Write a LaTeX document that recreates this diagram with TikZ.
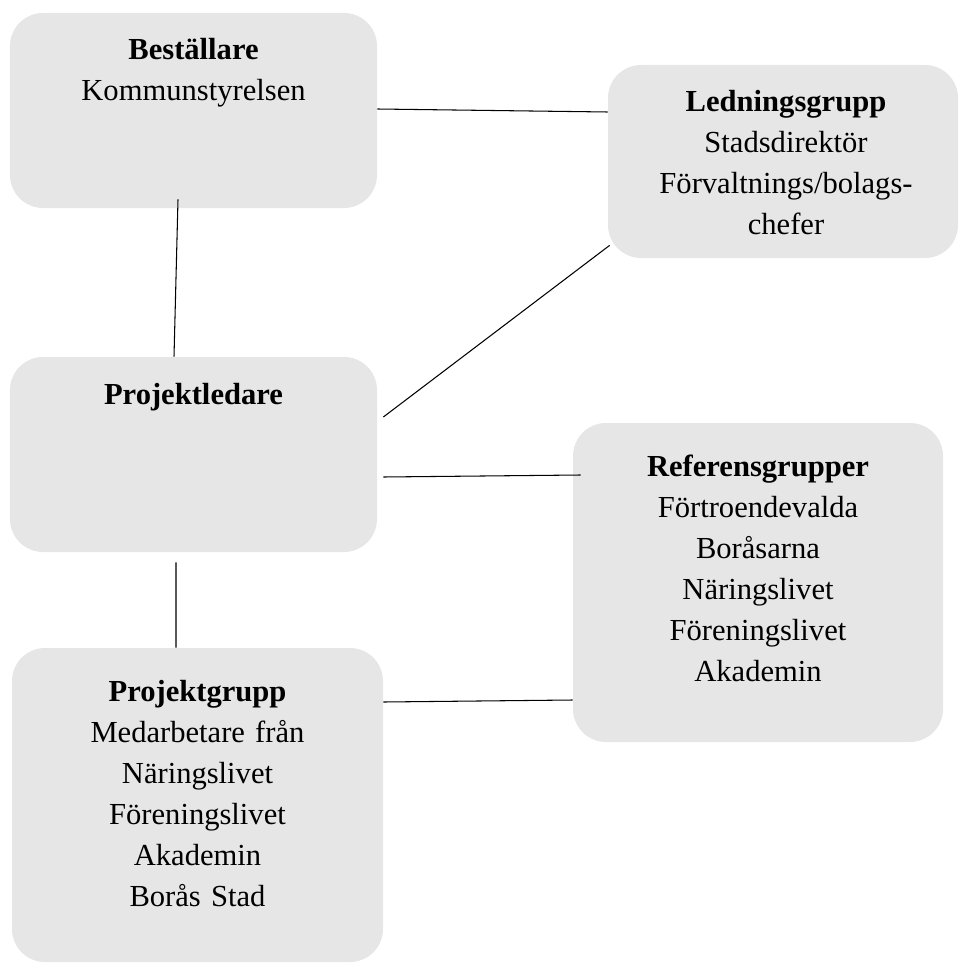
\documentclass[tikz,border=0pt]{standalone}
\usepackage{fontspec}
\setmainfont{Liberation Serif}
\usepackage{tikz}
\definecolor{boxgray}{HTML}{E6E6E6}
\tikzstyle{block} = [rectangle, fill=boxgray, rounded corners=0.66cm,
                 inner sep=0pt]
\tikzstyle{branch} = [line width=0.6pt, draw=black]
\tikzset{
	blocktext/.style={anchor=base, align=center, text width=7cm, inner sep=0pt,
		font=\fontsize{17.4}{23.3}\selectfont},
}

\begin{document}
\begin{tikzpicture}
\useasboundingbox (0,0) rectangle (19.18,-19.26);

\node [block, minimum width=7.34cm, minimum height=3.90cm] at (3.87,-2.21) (best) {};
\node [block, minimum width=7.00cm, minimum height=3.86cm] at (15.66,-3.23) (led) {};
\node [block, minimum width=7.34cm, minimum height=3.90cm] at (3.87,-9.09) (pl) {};
\node [block, minimum width=7.40cm, minimum height=6.38cm] at (15.16,-11.65) (ref) {};
\node [block, minimum width=7.42cm, minimum height=6.28cm] at (3.95,-16.10) (pg) {};

\node [blocktext] at ([yshift=-0.94cm]best.north) (bestt)
	{\textbf{Beställare}\\Kommunstyrelsen};
\node [blocktext] at ([xshift=0.06cm,yshift=-0.94cm]led.north) (ledt)
	{\textbf{Ledningsgrupp}\\Stadsdirektör\\Förvaltnings/bolags-\\chefer};
\node [blocktext] at ([yshift=-0.96cm]pl.north) (plt)
	{\textbf{Projektledare}};
\node [blocktext] at ([yshift=-1.08cm]ref.north) (reft)
	{\textbf{Referensgrupper}\\Förtroendevalda\\Boråsarna\\Näringslivet\\Föreningslivet\\Akademin};
\node [blocktext] at ([yshift=-1.08cm]pg.north) (pgt)
	{\textbf{Projektgrupp}\\Medarbetare från\\Näringslivet\\Föreningslivet\\Akademin\\Borås Stad};

%connections
\path [branch] ([yshift=0.03cm]best.east) -- ([yshift=0.99cm]led.west);
\path [branch] ([xshift=-0.31cm,yshift=0.18cm]best.south) -- ([xshift=-0.39cm]pl.north);
\path [branch] ([xshift=0.12cm,yshift=0.75cm]pl.east) -- ([xshift=0.04cm,yshift=0.26cm]led.south west);
\path [branch] ([xshift=0.12cm,yshift=-0.45cm]pl.east) -- ([xshift=0.16cm,yshift=2.15cm]ref.west);
\path [branch] ([xshift=-0.35cm,yshift=-0.2cm]pl.south) -- ([xshift=-0.43cm]pg.north);
\path [branch] ([yshift=2.06cm]pg.east) -- ([yshift=-2.35cm]ref.west);

\end{tikzpicture}
\end{document}
